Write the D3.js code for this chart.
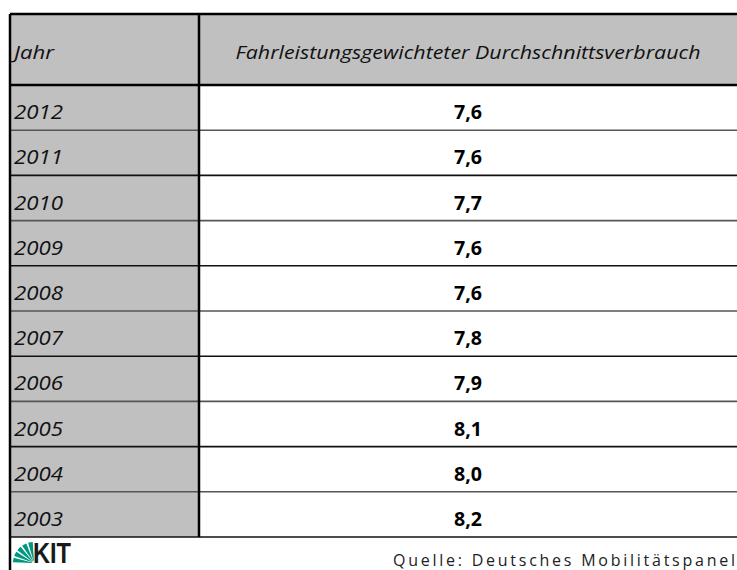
<!DOCTYPE html>
<html>
<head>
<meta charset="utf-8">
<script src="https://cdn.jsdelivr.net/npm/d3@7"></script>
<style>
  body { margin: 0; background: #fff; }
</style>
</head>
<body>
<div id="table"></div>
<script>
var years = ["2012", "2011", "2010", "2009", "2008", "2007", "2006", "2005", "2004", "2003"];
var values = [7.6, 7.6, 7.7, 7.6, 7.6, 7.8, 7.9, 8.1, 8.0, 8.2];
var headers = ["Jahr", "Fahrleistungsgewichteter Durchschnittsverbrauch"];
var source = "Quelle: Deutsches Mobilitätspanel";

var W = 737, H = 570;
// note: "top" is reserved on window, so use other names
var tLeft = 10, tTop = 14, headH = 71, colX = 199, tRight = 737, tBottom = 537;

var svg = d3.select("#table").append("svg")
  .attr("width", W).attr("height", H);

var y = d3.scaleBand()
  .domain(years)
  .range([tTop + headH, tBottom]);

var fmt = function(v) { return d3.format(".1f")(v).replace(".", ","); };

// header background
svg.append("rect").attr("x", tLeft).attr("y", tTop).attr("width", tRight - tLeft).attr("height", headH)
  .attr("fill", "#c0c0c0");
// year column background
svg.append("rect").attr("x", tLeft).attr("y", tTop + headH).attr("width", colX - tLeft).attr("height", tBottom - tTop - headH)
  .attr("fill", "#c0c0c0");

// row separators
svg.append("g").selectAll("line")
  .data(years)
  .enter().append("line")
  .attr("x1", tLeft).attr("x2", tRight)
  .attr("y1", function(d) { return y(d) + y.bandwidth(); })
  .attr("y2", function(d) { return y(d) + y.bandwidth(); })
  .attr("stroke", function(d, i) { return i % 2 == 0 ? "#555" : "#111"; })
  .attr("stroke-width", 1.6);

// header lines
svg.append("line").attr("x1", tLeft).attr("x2", tRight).attr("y1", tTop).attr("y2", tTop)
  .attr("stroke", "#000").attr("stroke-width", 2.5);
svg.append("line").attr("x1", tLeft).attr("x2", tRight).attr("y1", tTop + headH).attr("y2", tTop + headH)
  .attr("stroke", "#000").attr("stroke-width", 2.5);

// vertical lines
svg.append("line").attr("x1", tLeft).attr("x2", tLeft).attr("y1", tTop).attr("y2", H)
  .attr("stroke", "#000").attr("stroke-width", 2.5);
svg.append("line").attr("x1", colX).attr("x2", colX).attr("y1", tTop).attr("y2", tBottom)
  .attr("stroke", "#000").attr("stroke-width", 2.5);

// header texts
svg.append("text").attr("x", 14).attr("y", 59)
  .attr("font-family", "Open Sans").attr("font-style", "italic").attr("font-size", 19)
  .attr("textLength", 40).attr("lengthAdjust", "spacingAndGlyphs")
  .attr("fill", "#111").text(headers[0]);
svg.append("text").attr("x", (colX + tRight) / 2).attr("y", 59)
  .attr("text-anchor", "middle")
  .attr("font-family", "Open Sans").attr("font-style", "italic").attr("font-size", 18)
  .attr("textLength", 465).attr("lengthAdjust", "spacingAndGlyphs")
  .attr("fill", "#111").text(headers[1]);

// rows
var rows = svg.append("g").selectAll("g")
  .data(years)
  .enter().append("g");

rows.append("text")
  .attr("x", 14)
  .attr("y", function(d) { return y(d) + y.bandwidth() - 11; })
  .attr("font-family", "Open Sans").attr("font-style", "italic").attr("font-size", 20)
  .attr("textLength", 49).attr("lengthAdjust", "spacingAndGlyphs")
  .attr("fill", "#111")
  .text(function(d) { return d; });

rows.append("text")
  .attr("x", (colX + tRight) / 2)
  .attr("y", function(d) { return y(d) + y.bandwidth() - 11; })
  .attr("text-anchor", "middle")
  .attr("font-family", "Open Sans").attr("font-weight", "bold").attr("font-size", 19)
  .attr("textLength", 28).attr("lengthAdjust", "spacingAndGlyphs")
  .attr("fill", "#000")
  .text(function(d, i) { return fmt(values[i]); });

// KIT logo
var logo = svg.append("g").attr("transform", "translate(14,541)");
var fan = d3.arc().innerRadius(2).outerRadius(21);
var n = 5;
for (var k = 0; k < n; k++) {
  var a0 = -Math.PI / 2 + k * (Math.PI / 2) / n;
  logo.append("path")
    .attr("transform", "translate(20,22)")
    .attr("d", fan({ startAngle: a0 + 0.03, endAngle: a0 + (Math.PI / 2) / n - 0.06 }))
    .attr("fill", "#009682");
}
logo.append("text").attr("x", 19).attr("y", 22)
  .attr("font-family", "Liberation Sans Narrow, Liberation Sans").attr("font-weight", "bold").attr("font-size", 29)
  .attr("textLength", 38).attr("lengthAdjust", "spacingAndGlyphs")
  .attr("fill", "#1a1a1a").text("KIT");

// source
svg.append("text").attr("x", 735).attr("y", 566)
  .attr("text-anchor", "end")
  .attr("font-family", "Open Sans").attr("font-size", 16)
  .attr("textLength", 342).attr("lengthAdjust", "spacing")
  .attr("fill", "#222").text(source);
</script>
</body>
</html>
